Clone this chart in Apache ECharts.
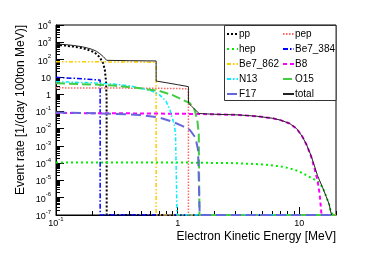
<!DOCTYPE html>
<html>
<head>
<meta charset="utf-8">
<script src="https://cdn.jsdelivr.net/npm/echarts@6/dist/echarts.min.js"></script>
<style>html,body{margin:0;padding:0;background:#fff}#c{width:374px;height:253px}</style>
</head>
<body>
<div id="c"></div>
<script>
// ---- data: [electron kinetic energy (MeV), rate] ----
const pp = [[0.1,700],[0.12,640],[0.14,560],[0.166,450],[0.18,380],[0.2,290],[0.215,210],[0.229,135],[0.244,61],[0.252,25],[0.258,5],[0.2605,0.5],[0.261,1e-7],[20,1e-7]];
const pep = [[0.1,2.3],[0.5,2.2],[1.0,2.1],[1.225,2.0],[1.2251,1e-7],[20,1e-7]];
const hep = [[0.1,1.1e-4],[1,1.1e-4],[3,1.0e-4],[5,8.5e-5],[7,6.5e-5],[8.3,5.1e-5],[10,3.3e-5],[12.1,1.6e-5],[14.1,9e-6],[15.5,4e-6],[16.6,1.2e-6],[17.6,4e-7],[18.2,1.3e-7],[18.5,1e-7],[20,1e-7]];
const be7_384 = [[0.1,9.3],[0.15,8],[0.2,7],[0.2305,6.5],[0.2306,1e-7],[20,1e-7]];
const be7_862 = [[0.1,75],[0.3,73],[0.5,71],[0.665,70],[0.6651,1e-7],[20,1e-7]];
const b8 = [[0.1,0.08],[0.3,0.078],[1,0.073],[2,0.068],[3.2,0.062],[4.5,0.052],[6,0.04],[7,0.031],[8.3,0.02],[9.5,0.01],[10.6,0.0034],[11.5,0.0011],[12.5,2.4e-4],[13.3,5e-5],[14.1,1e-5],[14.7,1.5e-6],[15.0,3e-7],[15.2,1e-7],[20,1e-7]];
const n13 = [[0.1,5.2],[0.2,4.5],[0.3,3.8],[0.4,3.0],[0.49,2.25],[0.6,1.6],[0.71,0.9],[0.8,0.4],[0.86,0.13],[0.91,0.035],[0.94,0.015],[0.96,0.005],[0.988,1e-7],[20,1e-7]];
const o15 = [[0.1,4.2],[0.2,3.6],[0.3,3.1],[0.49,2.2],[0.71,1.5],[0.9,0.9],[1.1,0.46],[1.26,0.3],[1.38,0.12],[1.45,0.03],[1.49,0.005],[1.509,1e-7],[20,1e-7]];
const f17 = [[0.1,0.085],[0.2,0.078],[0.3,0.072],[0.49,0.062],[0.7,0.045],[0.91,0.025],[1.1,0.014],[1.26,0.0083],[1.4,0.003],[1.47,0.0006],[1.517,1e-7],[20,1e-7]];
const total = [[0.1,800],[0.12,730],[0.14,650],[0.166,540],[0.18,470],[0.2,380],[0.215,300],[0.229,220],[0.244,150],[0.252,115],[0.261,90],[0.4,86],[0.665,83],[0.6651,5.7],[0.8,4.6],[1.0,3.5],[1.225,2.7],[1.2251,0.3],[1.3,0.2],[1.4,0.12],[1.5,0.075],[2,0.068],[3.2,0.062],[4.5,0.052],[6,0.04],[7,0.031],[8.3,0.02],[9.5,0.01],[10.6,0.0034],[11.5,0.0011],[12.5,2.6e-4],[13.3,7e-5],[14.1,1.9e-5],[15.5,4e-6],[16.6,1.2e-6],[17.6,4e-7],[18.2,1.3e-7],[18.5,1e-7]];

// ---- tick positions ----
const xMajorTicks = [0.1, 1, 10];
const xMinorTicks = [0.2,0.3,0.4,0.5,0.6,0.7,0.8,0.9,2,3,4,5,6,7,8,9,20];
const yMajorTicks = [1e-7,1e-6,1e-5,1e-4,1e-3,1e-2,1e-1,1,10,1e2,1e3,1e4];
const yMinorTicks = [];
for (let e = -7; e < 4; e++) for (let m = 2; m <= 9; m++) yMinorTicks.push(m * Math.pow(10, e));

const FONT = 'Liberation Sans, Arial, Helvetica, sans-serif';
function powLabel(v) {
  const e = Math.round(Math.log10(v));
  if (e === 0) return '{b|1}';
  if (e === 1) return '{b|10}';
  return '{b|10}{s|' + e + '}';
}
const rich = {
  b: {fontSize: 9, fontFamily: FONT, color: '#000', lineHeight: 12, verticalAlign: 'bottom'},
  s: {fontSize: 6, fontFamily: FONT, color: '#000', lineHeight: 12, verticalAlign: 'top', padding: [0,0,4,0]}
};

const chart = echarts.init(document.getElementById('c'), null, {renderer: 'canvas'});
function mk(name, data, color, type, width) {
  return {name, type: 'line', data, showSymbol: false, symbol: 'none', clip: true, animation: false,
    lineStyle: {color, type, width}, itemStyle: {color}, xAxisIndex: 0, yAxisIndex: 0};
}
const series = [
  mk('pp', pp, '#000000', [2,2], 2),
  mk('pep', pep, '#ff6666', [1.5,1.5], 1.5),
  mk('hep', hep, '#00ee00', [2,3], 2),
  mk('Be7_384', be7_384, '#0000ff', [5,2,1.5,2], 1.5),
  mk('Be7_862', be7_862, '#ffcc00', [4,2,1.5,2,1.5,2], 1.5),
  mk('B8', b8, '#ff00ff', [4,3], 2),
  mk('N13', n13, '#00eeff', [4,2,1.5,2], 1.5),
  mk('O15', o15, '#44cc44', [9,4], 2),
  mk('F17', f17, '#6666dd', [10,5], 2),
  mk('total', total, '#222222', 'solid', 1)
];
const legendCommon = {
  orient: 'vertical', itemWidth: 11, itemHeight: 10, itemGap: 5, selectedMode: false, z: 5,
  itemStyle: {opacity: 0, borderWidth: 0},
  textStyle: {fontSize: 10, fontFamily: FONT, color: '#000', lineHeight: 10, padding: [0,0,0,-4]},
  padding: 0
};
chart.setOption({
  animation: false,
  backgroundColor: '#fff',
  grid: {left: 56, top: 25, right: 38, bottom: 38, show: true, borderColor: '#000', borderWidth: 1, backgroundColor: 'transparent'},
  xAxis: [
    {type: 'log', logBase: 10, min: 0.1, max: 20, position: 'bottom',
      axisLine: {show: true, lineStyle: {color: '#000', width: 1}},
      axisTick: {show: true, inside: true, length: 8, customValues: xMajorTicks, lineStyle: {color: '#000'}},
      axisLabel: {customValues: xMajorTicks, formatter: powLabel, rich, margin: 1},
      splitLine: {show: false}, minorTick: {show: false}},
    {type: 'log', logBase: 10, min: 0.1, max: 20, position: 'bottom', gridIndex: 0,
      axisLine: {show: false},
      axisTick: {show: true, inside: true, length: 4, customValues: xMinorTicks, lineStyle: {color: '#000'}},
      axisLabel: {show: false}, splitLine: {show: false}}
  ],
  yAxis: [
    {type: 'log', logBase: 10, min: 1e-7, max: 1e4, position: 'left',
      axisLine: {show: true, lineStyle: {color: '#000', width: 1}},
      axisTick: {show: true, inside: true, length: 8, customValues: yMajorTicks, lineStyle: {color: '#000'}},
      axisLabel: {customValues: yMajorTicks, formatter: powLabel, rich, margin: 5},
      splitLine: {show: false}},
    {type: 'log', logBase: 10, min: 1e-7, max: 1e4, position: 'left', offset: 0, gridIndex: 0,
      axisLine: {show: false},
      axisTick: {show: true, inside: true, length: 4, customValues: yMinorTicks, lineStyle: {color: '#000'}},
      axisLabel: {show: false}, splitLine: {show: false}}
  ],
  legend: [
    Object.assign({left: 226, top: 29, data: ['pp','hep','Be7_862','N13','F17']}, legendCommon),
    Object.assign({left: 282, top: 29, data: ['pep','Be7_384','B8','O15','total']}, legendCommon)
  ],
  graphic: [
    {type: 'rect', z: 4, shape: {x: 224.5, y: 25.5, width: 111.5, height: 75}, style: {fill: '#fff', stroke: '#333', lineWidth: 1}},
    {type: 'text', z: 6, x: 336, y: 237, style: {text: 'Electron Kinetic Energy [MeV]', font: '12px ' + FONT, fill: '#000', align: 'right', verticalAlign: 'middle'}},
    {type: 'text', z: 6, x: 21, y: 25, rotation: Math.PI / 2, style: {text: 'Event rate [1/(day 100ton MeV)]', font: '12px ' + FONT, fill: '#000', align: 'right', verticalAlign: 'middle'}}
  ],
  series
});
</script>
</body>
</html>
